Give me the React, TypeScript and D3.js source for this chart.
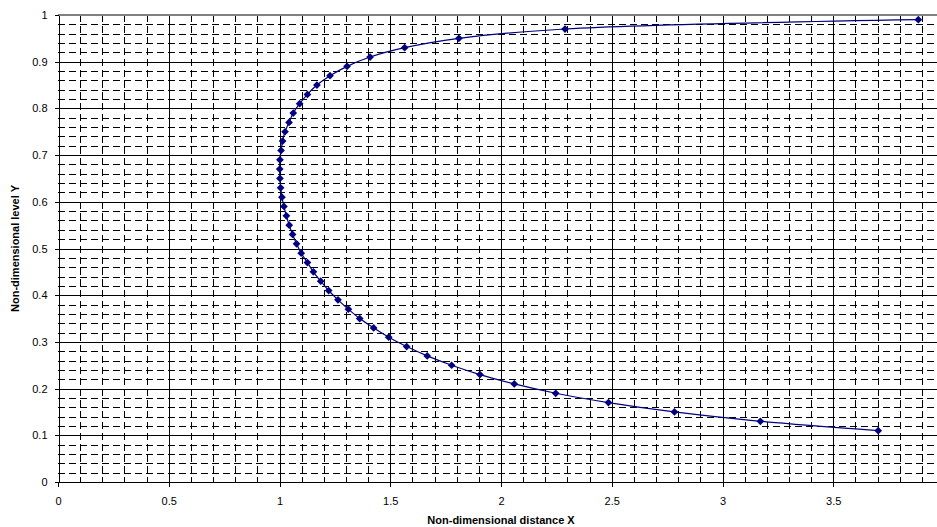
import React, { useEffect, useRef } from "react";
import * as d3 from "d3";

// Non-dimensional level Y (every 0.02) and the distance X
const levelY = [
  0.11, 0.13, 0.15, 0.17, 0.19, 0.21, 0.23, 0.25, 0.27, 0.29, 0.31, 0.33, 0.35,
  0.37, 0.39, 0.41, 0.43, 0.45, 0.47, 0.49, 0.51, 0.53, 0.55, 0.57, 0.59, 0.61,
  0.63, 0.65, 0.67, 0.69, 0.71, 0.73, 0.75, 0.77, 0.79, 0.81, 0.83, 0.85, 0.87,
  0.89, 0.91, 0.93, 0.95, 0.97, 0.99,
];
const distanceX = [
  3.703, 3.171, 2.783, 2.485, 2.247, 2.06, 1.905, 1.777, 1.667, 1.574, 1.493,
  1.425, 1.362, 1.311, 1.264, 1.222, 1.186, 1.153, 1.126, 1.098, 1.077, 1.059,
  1.044, 1.031, 1.02, 1.011, 1.005, 1.002, 1.001, 1.002, 1.007, 1.014, 1.025,
  1.043, 1.062, 1.091, 1.126, 1.169, 1.228, 1.305, 1.409, 1.565, 1.81, 2.289,
  3.884,
];
const xTickLabels = ["0", "0.5", "1", "1.5", "2", "2.5", "3", "3.5"];
const yTickLabels = ["0", "0.1", "0.2", "0.3", "0.4", "0.5", "0.6", "0.7", "0.8", "0.9", "1"];

const App = () => {
  const svgRef = useRef<SVGSVGElement>(null);

  useEffect(() => {
    const width = 937;
    const height = 527;
    const left = 58;
    const top = 15;
    const bottom = 482;
    const right = 944; // x = 4 falls just outside the picture

    const svg = d3.select(svgRef.current);
    svg.selectAll("*").remove();
    svg.attr("width", width).attr("height", height);

    const x = d3.scaleLinear().domain([0, 4]).range([left, right]);
    const y = d3.scaleLinear().domain([0, 1]).range([bottom, top]);

    const font = "'Liberation Sans', Arial, sans-serif";
    const grid = svg.append("g").attr("shape-rendering", "crispEdges");

    // minor dashed gridlines
    d3.range(1, 50).filter(i => i % 5 !== 0).forEach(i => {
      const yy = Math.round(y(i * 0.02)) + 0.5;
      grid.append("line")
        .attr("x1", left).attr("x2", width)
        .attr("y1", yy).attr("y2", yy)
        .attr("stroke", "#000").attr("stroke-dasharray", "7,4");
    });
    d3.range(1, 40).filter(i => i % 5 !== 0).forEach(i => {
      const xx = Math.round(x(i * 0.1)) + 0.5;
      grid.append("line")
        .attr("x1", xx).attr("x2", xx)
        .attr("y1", top).attr("y2", bottom)
        .attr("stroke", "#000").attr("stroke-dasharray", "7,4");
    });

    // major solid gridlines
    d3.range(1, 10).forEach(i => {
      const yy = Math.round(y(i * 0.1)) + 0.5;
      grid.append("line")
        .attr("x1", left).attr("x2", width)
        .attr("y1", yy).attr("y2", yy)
        .attr("stroke", "#000");
    });
    d3.range(1, 8).forEach(i => {
      const xx = Math.round(x(i * 0.5)) + 0.5;
      grid.append("line")
        .attr("x1", xx).attr("x2", xx)
        .attr("y1", top).attr("y2", bottom)
        .attr("stroke", "#000");
    });

    // top border
    grid.append("line")
      .attr("x1", left).attr("x2", width)
      .attr("y1", top).attr("y2", top)
      .attr("stroke", "#808080").attr("stroke-width", 2);

    // axes
    const xAxis = svg.append("g")
      .attr("transform", `translate(0,${Math.round(bottom) + 0.5})`)
      .call(
        d3.axisBottom(x)
          .tickValues(xTickLabels.map(Number))
          .tickFormat((d, i) => xTickLabels[i])
          .tickSizeInner(4)
          .tickSizeOuter(0)
          .tickPadding(11)
      );
    const yAxis = svg.append("g")
      .attr("transform", `translate(${left + 0.5},0)`)
      .call(
        d3.axisLeft(y)
          .tickValues(yTickLabels.map(Number))
          .tickFormat((d, i) => yTickLabels[i])
          .tickSizeInner(4)
          .tickSizeOuter(0)
          .tickPadding(7)
      );
    [xAxis, yAxis].forEach(g => {
      g.attr("shape-rendering", "crispEdges");
      g.select(".domain").attr("stroke", "#000");
      g.selectAll("line").attr("stroke", "#000");
      g.selectAll("text")
        .attr("font-family", font)
        .attr("font-size", 11)
        .attr("fill", "#000")
        .attr("shape-rendering", null);
    });
    xAxis.select(".domain").attr("d", `M${left},0H${width}`);

    // curve
    const points = levelY.map((v, i) => ({ x: distanceX[i], y: v }));
    const line = d3.line<{ x: number; y: number }>()
      .x(d => x(d.x))
      .y(d => y(d.y))
      .curve(d3.curveCatmullRom.alpha(0.5));

    svg.append("path")
      .datum(points)
      .attr("d", line)
      .attr("fill", "none")
      .attr("stroke", "#000080")
      .attr("stroke-width", 1.2);

    // square markers turned 45 degrees
    const marker = d3.symbol().type(d3.symbolSquare).size(30);
    svg.append("g")
      .selectAll("path")
      .data(points)
      .enter()
      .append("path")
      .attr("transform", d => `translate(${x(d.x)},${y(d.y)}) rotate(45)`)
      .attr("d", marker)
      .attr("fill", "#000080");

    // axis titles
    svg.append("text")
      .attr("x", (left + right) / 2)
      .attr("y", 524)
      .attr("text-anchor", "middle")
      .attr("font-family", font)
      .attr("font-size", 11)
      .attr("font-weight", "bold")
      .text("Non-dimensional distance X");

    svg.append("text")
      .attr("transform", `translate(19,${(top + bottom) / 2}) rotate(-90)`)
      .attr("text-anchor", "middle")
      .attr("font-family", font)
      .attr("font-size", 11)
      .attr("font-weight", "bold")
      .text("Non-dimensional level Y");
  }, []);

  return (
    <div style={{ position: "absolute", left: 0, top: 0, width: 937, height: 527, overflow: "hidden", background: "#fff" }}>
      <svg ref={svgRef} style={{ display: "block" }}></svg>
    </div>
  );
};

export default App;
